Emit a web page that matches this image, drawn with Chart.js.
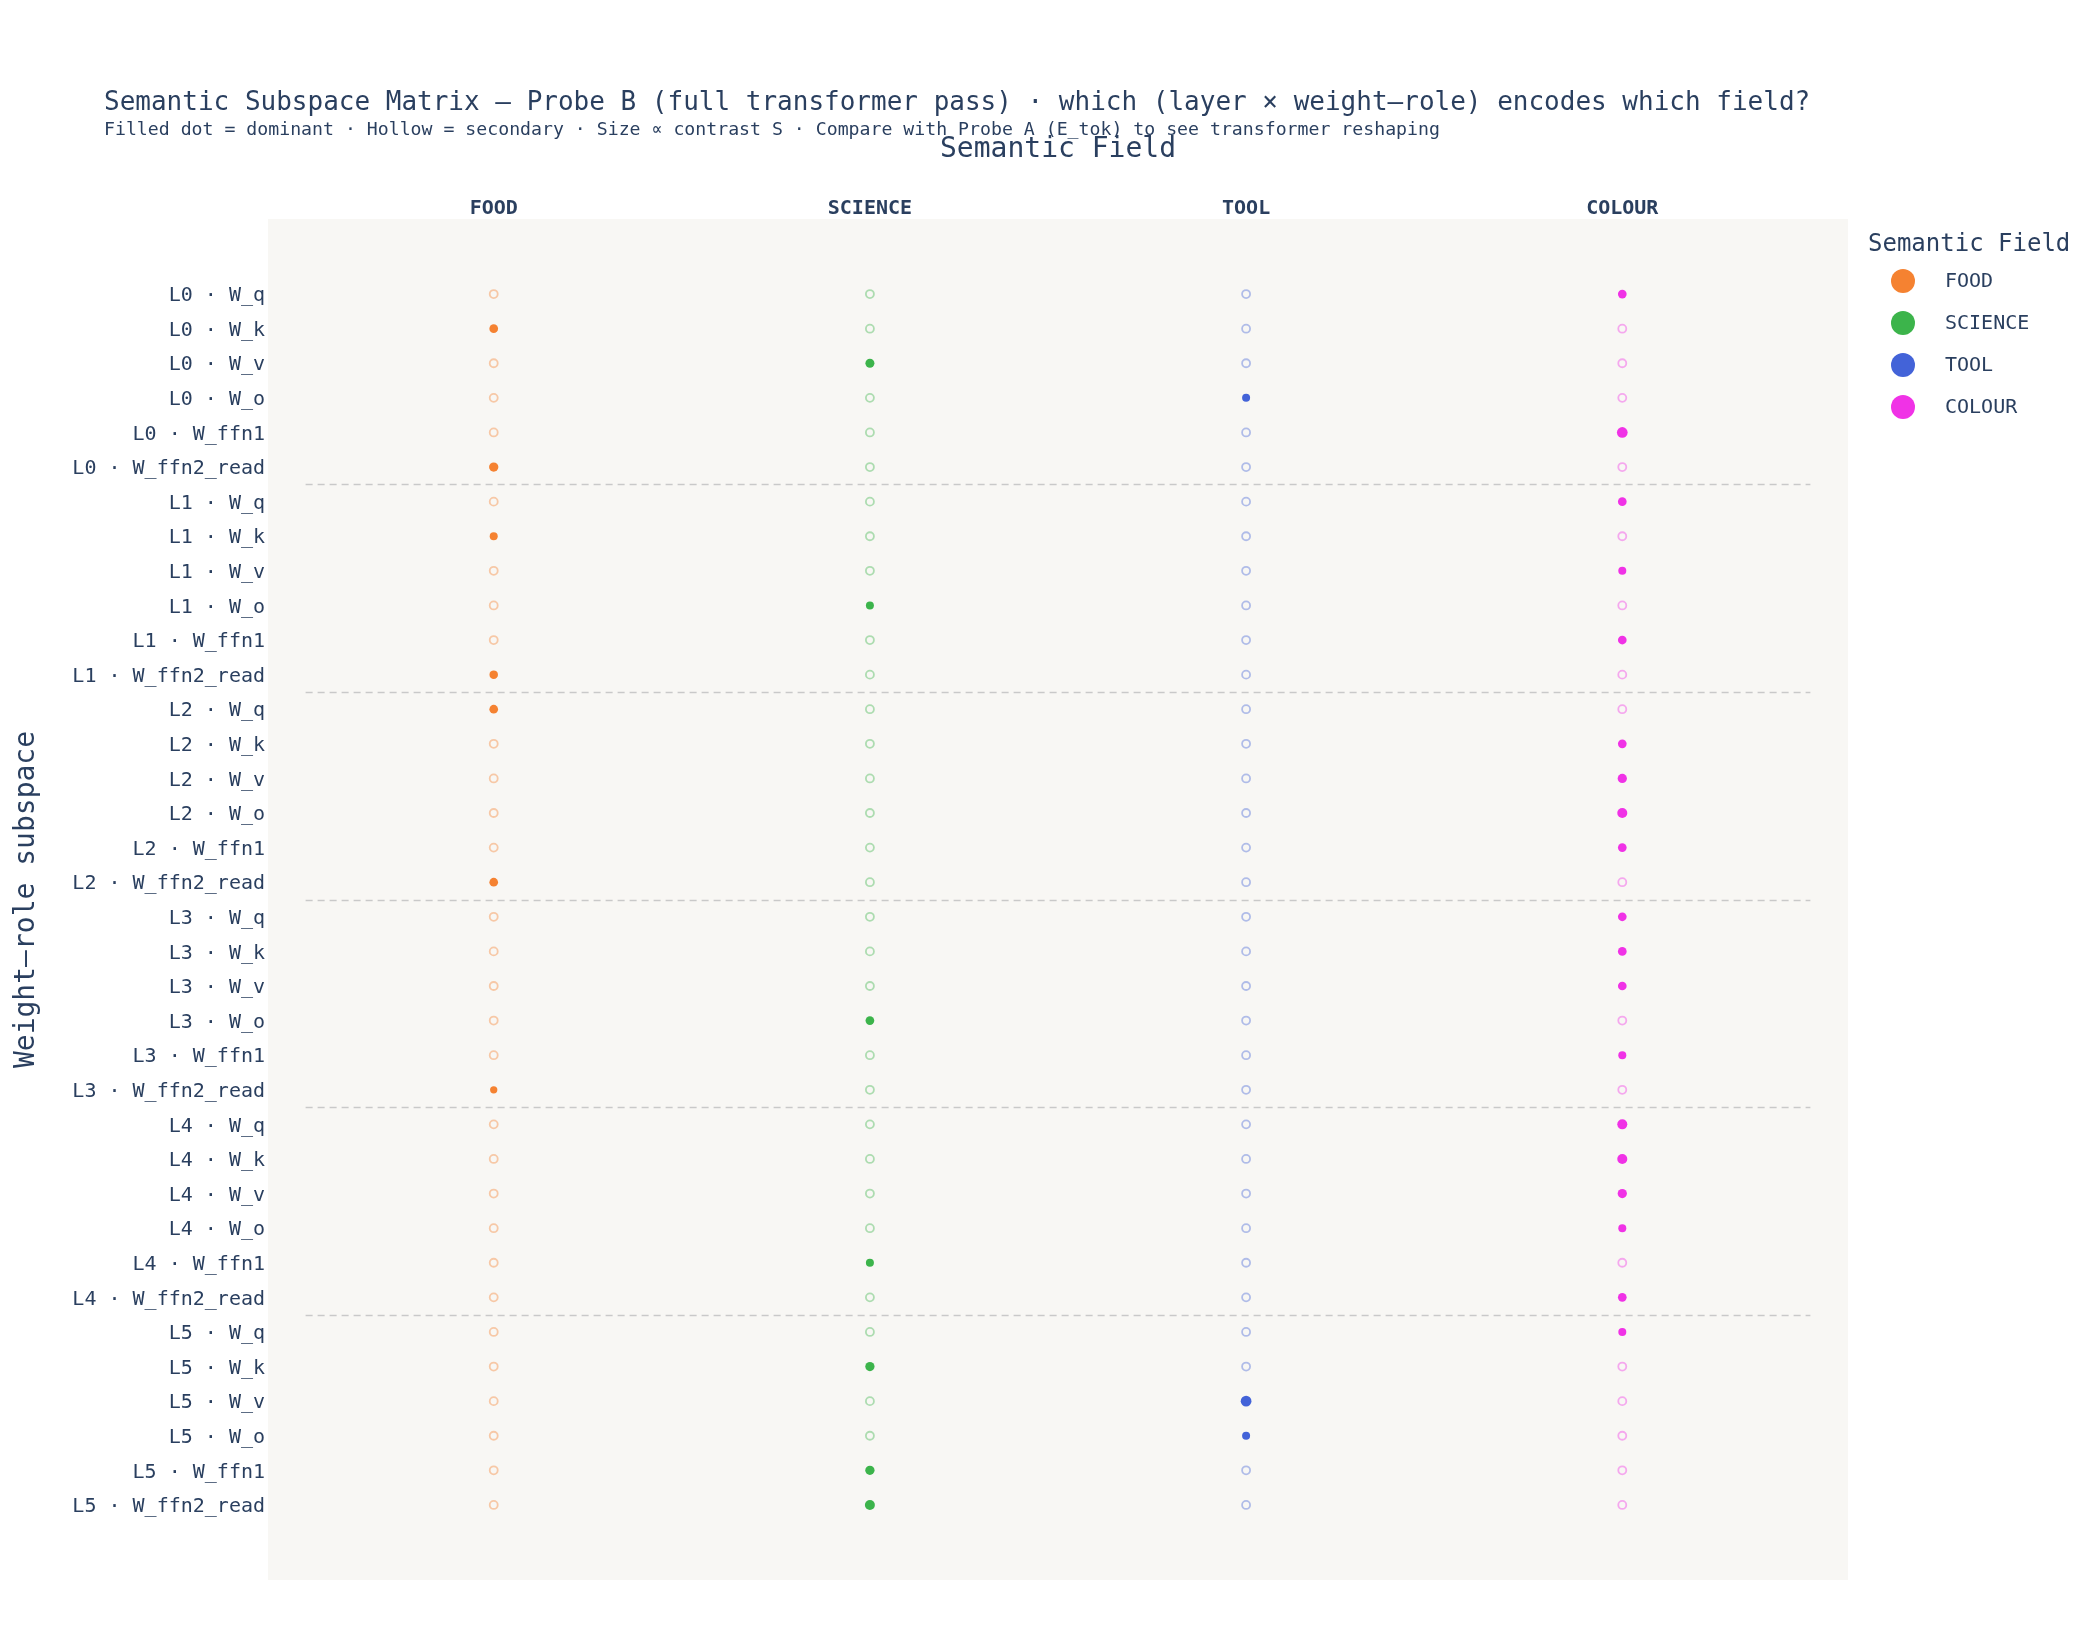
<!DOCTYPE html>
<html>
<head>
<meta charset="utf-8">
<title>Semantic Subspace Matrix — Probe B</title>
<script src="https://cdn.jsdelivr.net/npm/chart.js@4.4.1/dist/chart.umd.min.js"></script>
<style>
  html, body { margin: 0; padding: 0; background: #ffffff; }
  #wrap { width: 2100px; height: 1640px; position: relative; }
</style>
</head>
<body>
<div id="wrap"><canvas id="grafico"></canvas></div>
<script>
// Data
const fields = ['FOOD', 'SCIENCE', 'TOOL', 'COLOUR'];
const fieldColors = ['#f58231', '#3cb44b', '#4363d8', '#f032e6'];
const fieldColorsSoft = ['rgba(245,130,49,0.4)', 'rgba(60,180,75,0.4)', 'rgba(67,99,216,0.4)', 'rgba(240,50,230,0.4)'];
const layers = ['L0', 'L1', 'L2', 'L3', 'L4', 'L5'];
const roles = ['W_q', 'W_k', 'W_v', 'W_o', 'W_ffn1', 'W_ffn2_read'];

// dominant field per row (index into fields), rows go L0 W_q ... L5 W_ffn2_read
const dominant = [
  3, 0, 1, 2, 3, 0,
  3, 0, 3, 1, 3, 0,
  0, 3, 3, 3, 3, 0,
  3, 3, 3, 1, 3, 0,
  3, 3, 3, 3, 1, 3,
  3, 1, 2, 2, 1, 1
];

// contrast S of the dominant field in each row
const contrastS = [
  0.54, 0.54, 0.60, 0.40, 0.94, 0.66,
  0.54, 0.40, 0.40, 0.40, 0.54, 0.50,
  0.54, 0.54, 0.66, 0.80, 0.54, 0.54,
  0.54, 0.54, 0.54, 0.54, 0.40, 0.26,
  0.80, 0.80, 0.66, 0.40, 0.40, 0.54,
  0.40, 0.66, 0.94, 0.40, 0.66, 0.80
];

const rowLabels = [];
layers.forEach(l => roles.forEach(r => rowLabels.push(l + ' · ' + r)));

const FONT = "'DejaVu Sans Mono', monospace";
const TEXT = '#2a3f5f';

// one filled + one hollow dataset per field
const datasets = [];
fields.forEach((f, fi) => {
  const filled = [];
  const hollow = [];
  rowLabels.forEach((lab, ri) => {
    if (dominant[ri] === fi) {
      filled.push({ x: fi, y: ri, s: contrastS[ri] });
    } else {
      hollow.push({ x: fi, y: ri });
    }
  });
  datasets.push({
    label: f + ' (secondary)',
    data: hollow,
    pointRadius: 4,
    pointBackgroundColor: 'rgba(0,0,0,0)',
    pointBorderColor: fieldColorsSoft[fi],
    pointBorderWidth: 1.8
  });
  datasets.push({
    label: f,
    data: filled,
    pointRadius: ctx => (6 + 5 * ctx.raw.s) / 2,
    pointBackgroundColor: fieldColors[fi],
    pointBorderWidth: 0
  });
});

// background, layer separators, titles and legend
const extras = {
  id: 'extras',
  beforeDraw(chart) {
    const { ctx, chartArea: a } = chart;
    ctx.save();
    ctx.fillStyle = '#f8f7f4';
    ctx.fillRect(a.left, a.top, a.right - a.left, a.bottom - a.top);
    ctx.restore();
  },
  beforeDatasetsDraw(chart) {
    const { ctx } = chart;
    const xs = chart.scales.x;
    const ys = chart.scales.y;
    ctx.save();
    ctx.strokeStyle = '#c9c9c9';
    ctx.lineWidth = 1.5;
    ctx.setLineDash([7, 5]);
    for (let l = 1; l < layers.length; l++) {
      const py = Math.round(ys.getPixelForValue(l * roles.length - 0.5)) + 0.5;
      ctx.beginPath();
      ctx.moveTo(xs.getPixelForValue(-0.5), py);
      ctx.lineTo(xs.getPixelForValue(fields.length - 0.5), py);
      ctx.stroke();
    }
    ctx.restore();
  },
  afterDraw(chart) {
    const { ctx, chartArea: a } = chart;
    ctx.save();
    ctx.fillStyle = TEXT;
    ctx.textBaseline = 'middle';

    ctx.textAlign = 'left';
    ctx.font = '26px ' + FONT;
    ctx.fillText('Semantic Subspace Matrix — Probe B (full transformer pass) · which (layer × weight–role) encodes which field?', 104, 103);
    ctx.font = '18.2px ' + FONT;
    ctx.fillText('Filled dot = dominant · Hollow = secondary · Size ∝ contrast S · Compare with Probe A (E_tok) to see transformer reshaping', 104, 130);

    // axis titles
    ctx.textAlign = 'center';
    ctx.font = '28px ' + FONT;
    ctx.fillText('Semantic Field', (a.left + a.right) / 2, 150);
    ctx.save();
    ctx.translate(27, (a.top + a.bottom) / 2);
    ctx.rotate(-Math.PI / 2);
    ctx.fillText('Weight–role subspace', 0, 0);
    ctx.restore();

    // legend
    ctx.textAlign = 'left';
    ctx.font = '24px ' + FONT;
    ctx.fillText('Semantic Field', 1868, 245);
    ctx.font = '20px ' + FONT;
    fields.forEach((f, i) => {
      const cy = 281 + i * 42;
      ctx.fillStyle = fieldColors[i];
      ctx.beginPath();
      ctx.arc(1903, cy, 12, 0, Math.PI * 2);
      ctx.fill();
      ctx.fillStyle = TEXT;
      ctx.fillText(f, 1945, cy + 1);
    });
    ctx.restore();
  }
};

new Chart(document.getElementById('grafico'), {
  type: 'scatter',
  data: { datasets: datasets },
  options: {
    responsive: true,
    maintainAspectRatio: false,
    animation: false,
    layout: { padding: { left: 0, right: 252, top: 0, bottom: 60 } },
    plugins: {
      legend: { display: false },
      tooltip: { enabled: false }
    },
    scales: {
      x: {
        type: 'linear',
        position: 'top',
        min: -0.6,
        max: 3.6,
        grid: { display: false, drawTicks: false },
        border: { display: false },
        afterBuildTicks: s => { s.ticks = fields.map((f, i) => ({ value: i })); },
        afterFit: s => { s.height = 219; },
        ticks: {
          autoSkip: false,
          maxRotation: 0,
          padding: -2,
          color: TEXT,
          font: { family: FONT, size: 20, weight: 'bold' },
          callback: v => fields[v]
        }
      },
      y: {
        type: 'linear',
        reverse: true,
        min: -2.17,
        max: 37.17,
        grid: { display: false, drawTicks: false },
        border: { display: false },
        afterBuildTicks: s => { s.ticks = rowLabels.map((r, i) => ({ value: i })); },
        afterFit: s => { s.width = 268; },
        ticks: {
          autoSkip: false,
          padding: 3,
          labelOffset: 2,
          color: TEXT,
          font: { family: FONT, size: 20 },
          callback: v => rowLabels[v]
        }
      }
    }
  },
  plugins: [extras]
});
</script>
</body>
</html>
